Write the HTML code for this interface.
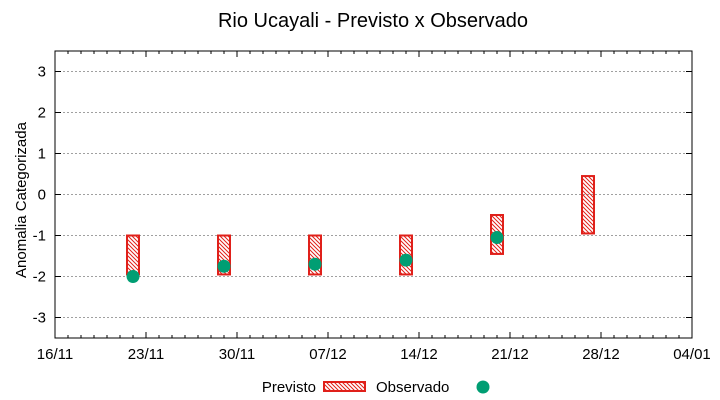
<!DOCTYPE html>
<html><head><meta charset="utf-8"><style>body{margin:0;background:#fff}svg{display:block;font-family:"Liberation Sans",sans-serif}</style></head>
<body>
<svg id="c" width="720" height="400">
<defs><pattern id="h" width="4" height="4" patternUnits="userSpaceOnUse"><path d="M-1,-1 L5,5 M-1,3 L1,5 M3,-1 L5,1" stroke="#e0201a" stroke-width="1"/></pattern></defs>
<text x="373" y="27" text-anchor="middle" font-size="20">Rio Ucayali - Previsto x Observado</text>
<text transform="translate(26,200) rotate(-90)" text-anchor="middle" font-size="15">Anomalia Categorizada</text>
<g id="g"></g>
<text x="316" y="392" text-anchor="end" font-size="15">Previsto</text>
<rect x="324" y="382" width="41" height="9" fill="url(#h)" stroke="#e0201a" stroke-width="2"/>
<text x="376" y="392" font-size="15">Observado</text>
<circle cx="483" cy="387" r="6.5" fill="#009e73"/>
</svg>
<script>
const xTickLabels=["16/11","23/11","30/11","07/12","14/12","21/12","28/12","04/01"];
const yTicks=[3,2,1,0,-1,-2,-3];
const forecastDay=[6.0,13.0,20.0,27.0,34.0,41.0];
const forecastHigh=[-1,-1,-1,-1,-0.5,0.45];
const forecastLow=[-1.95,-1.95,-1.95,-1.95,-1.45,-0.95];
const obsDay=[6,13,20,27,34];
const obsValue=[-2,-1.75,-1.7,-1.6,-1.05];
const L=55,R=692,T=51,B=338,days=49;
const X=d=>L+(R-L)*d/days, Y=v=>B-(B-T)*(v+3.5)/7;
const g=document.getElementById('g'),NS='http://www.w3.org/2000/svg';
function mk(t,a){const e=document.createElementNS(NS,t);for(const k in a)e.setAttribute(k,a[k]);g.appendChild(e);return e;}
yTicks.forEach(v=>{const y=Y(v);
 const gl=mk('line',{x1:L,x2:R,y1:y,y2:y,stroke:'#a0a0a0','stroke-dasharray':'2,2'});
 
 
 mk('line',{x1:L,x2:L+6,y1:y,y2:y,stroke:'#000'});mk('line',{x1:R-6,x2:R,y1:y,y2:y,stroke:'#000'});
 const t=mk('text',{x:L-9,y:y+5,'text-anchor':'end','font-size':15});t.textContent=v;
 
 
});
for(let d=0;d<=days;d++){const x=X(d),len=d%7?3:6;
 mk('line',{x1:x,x2:x,y1:B,y2:B-len,stroke:'#000'});mk('line',{x1:x,x2:x,y1:T,y2:T+len,stroke:'#000'});}
xTickLabels.forEach((s,i)=>{const t=mk('text',{x:X(i*7),y:B+21,'text-anchor':'middle','font-size':15});t.textContent=s;
 
 });
const fr=mk('rect',{x:L,y:T,width:R-L,height:B-T,fill:'none',stroke:'#000'});


forecastDay.forEach((d,i)=>{const r=mk('rect',{x:X(d)-6,y:Y(forecastHigh[i]),width:12,height:Y(forecastLow[i])-Y(forecastHigh[i]),fill:'url(#h)',stroke:'#e0201a','stroke-width':2});
 
 });
obsDay.forEach((d,i)=>{const c=mk('circle',{cx:X(d),cy:Y(obsValue[i]),r:6.5,fill:'#009e73'});
 
 });
</script>
</body></html>
